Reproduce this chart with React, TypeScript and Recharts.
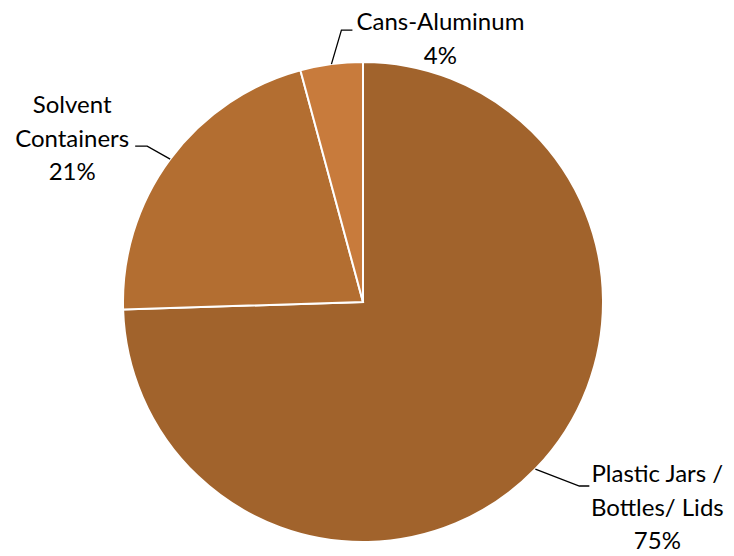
import { PieChart, Pie, Cell } from 'recharts';

const categories = ['Plastic Jars / Bottles/ Lids', 'Solvent Containers', 'Cans-Aluminum'];
const labelLines = [['Plastic Jars /', 'Bottles/ Lids'], ['Solvent', 'Containers'], ['Cans-Aluminum']];
const shares = [74.5, 21.3, 4.2];
const colors = ['#A1632C', '#B36E31', '#C87B3C'];

const data = categories.map((name, i) => ({ name, value: shares[i] }));

// elbow offset from the slice edge, horizontal run, text centre offset and first baseline
const labelLayout = [
  { dx: 44, dy: 17, run: 10, tx: 122, ty: 13 },
  { dx: -23, dy: -13, run: -12, tx: -98, ty: -46 },
  { dx: 10, dy: -34, run: 11, tx: 109, ty: -34 },
];

const RAD = Math.PI / 180;
const LINE_H = 33.5;

function renderLabel(props: any) {
  const { cx, cy, midAngle, outerRadius, percent, index } = props;
  const ex = cx + outerRadius * Math.cos(-midAngle * RAD);
  const ey = cy + outerRadius * Math.sin(-midAngle * RAD);
  const l = labelLayout[index];
  const bx = ex + l.dx;
  const by = ey + l.dy;
  const lines = [...labelLines[index], `${Math.round(percent * 100)}%`];
  return (
    <g>
      <polyline
        points={`${ex},${ey} ${bx},${by} ${bx + l.run},${by}`}
        fill="none"
        stroke="#000"
        strokeWidth={1.3}
      />
      <text textAnchor="middle" fontFamily="Lato, sans-serif" fontSize={24} fill="#000">
        {lines.map((t, i) => (
          <tspan key={i} x={ex + l.tx} y={ey + l.ty + i * LINE_H}>
            {t}
          </tspan>
        ))}
      </text>
    </g>
  );
}

export default function App() {
  return (
    <div style={{ position: 'absolute', left: 0, top: 0, background: '#fff' }}>
      <style>{`.recharts-pie-sectors { filter: drop-shadow(0px 2px 2px rgba(0,0,0,0.3)); }`}</style>
      <PieChart width={734} height={556} margin={{ top: 0, right: 0, bottom: 0, left: 0 }}>
        <Pie
          data={data}
          dataKey="value"
          nameKey="name"
          cx={363}
          cy={302}
          outerRadius={240}
          startAngle={90}
          endAngle={-270}
          stroke="#fff"
          strokeWidth={2}
          label={renderLabel}
          labelLine={false}
          isAnimationActive={false}
        >
          {data.map((d, i) => (
            <Cell key={d.name} fill={colors[i]} />
          ))}
        </Pie>
      </PieChart>
    </div>
  );
}
